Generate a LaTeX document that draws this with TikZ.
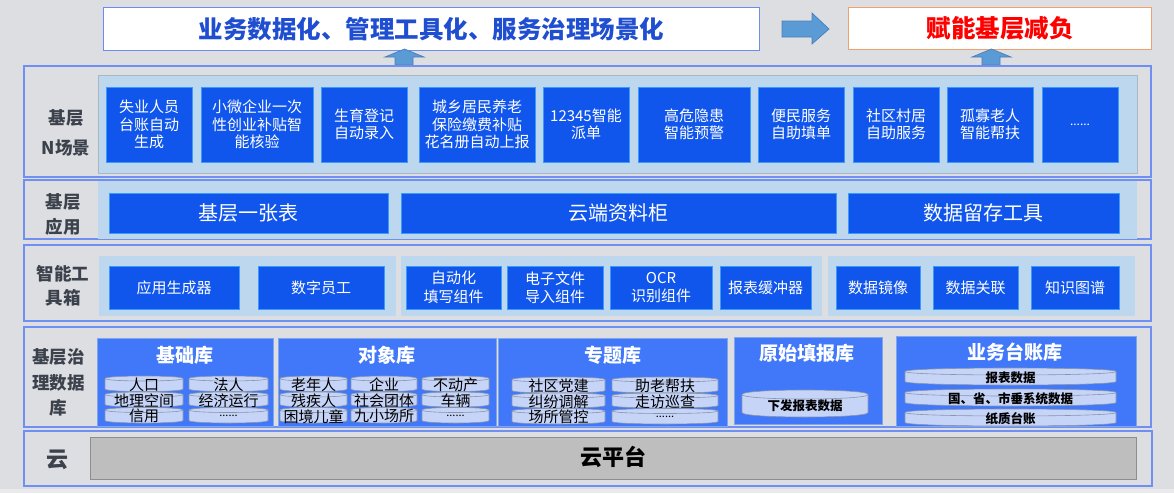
\documentclass[tikz,border=0pt]{standalone}
\usepackage{fontspec}
\setmainfont{Noto Sans CJK SC}
\definecolor{bg}{HTML}{DDDEE2}
\definecolor{bgfoot}{HTML}{EAEAEC}
\definecolor{rowline}{HTML}{6F8FF2}
\definecolor{panel}{HTML}{BDD7EE}
\definecolor{panelline}{HTML}{A9B6C4}
\definecolor{boxblue}{HTML}{1156EC}
\definecolor{boxedge}{HTML}{3A9BFF}
\definecolor{libblue}{HTML}{4078F9}
\definecolor{libedge}{HTML}{7FA6E8}
\definecolor{cylfill}{HTML}{C6D4F8}
\definecolor{cyledge}{HTML}{8A95A8}
\definecolor{labelgray}{HTML}{3C424C}
\definecolor{titleblue}{HTML}{1F4ED0}
\definecolor{topedge}{HTML}{6C8DEB}
\definecolor{orangeedge}{HTML}{F0A070}
\definecolor{arrowfill}{HTML}{5B9BD5}
\definecolor{arrowedge}{HTML}{4A7EBB}
\definecolor{cloudgray}{HTML}{BEBEBE}
\definecolor{cloudedge}{HTML}{8E8E8E}
\newcommand\fs[2]{\fontsize{#1}{#2}\selectfont}
\newcommand\bx[7]{\node[#1,anchor=north west,minimum width={#5-#3},minimum height={#6-#4}] (#2) at (#3,#4) {#7};}
\def\cylr{2.5}
\newcommand\cyl[7]{%
  \filldraw[cylshape] (#3,#4+\cylr) -- (#3,#6-\cylr) .. controls (#3,#6+\cylr/3) and (#5,#6+\cylr/3) .. (#5,#6-\cylr)
     -- (#5,#4+\cylr) .. controls (#5,#4-\cylr/3) and (#3,#4-\cylr/3) .. (#3,#4+\cylr) -- cycle;
  \draw[cylshape,fill=none] (#3,#4+\cylr) .. controls (#3,#4+7*\cylr/3) and (#5,#4+7*\cylr/3) .. (#5,#4+\cylr);
  \node[#1] (#2) at ({(#3+#5)/2},{(#4+#6)/2+\cylr*0.4}) {#7};}
\begin{document}
\begin{tikzpicture}[x=1pt,y=-1pt,
  sbox/.style={draw=boxedge,line width=0.7pt,fill=boxblue,text=white,inner sep=0pt,outer sep=0pt,align=center,font=\fs{15}{17.5}},
  tbox/.style={sbox,font=\fs{15}{18.5}},
  abox/.style={sbox,font=\fs{20}{24}},
  libbox/.style={draw=libedge,line width=0.7pt,fill=libblue,inner sep=0pt,outer sep=0pt},
  libtitle/.style={text=white,font=\bfseries\fs{19}{22},inner sep=0pt},
  cylshape/.style={draw=cyledge,fill=cylfill,line width=0.6pt},
  cyltext/.style={text=black,font=\fs{15}{15},inner sep=0pt},
  cylbold/.style={text=black,font=\bfseries\fs{12.5}{14},inner sep=0pt},
  rowlabel/.style={text=labelgray,font=\bfseries\fs{17.5}{25},align=center,inner sep=0pt},
  rowframe/.style={draw=rowline,line width=1.1pt},
  blockarrow/.style={fill=arrowfill,draw=arrowedge,line width=0.7pt}]
\useasboundingbox (0,0) rectangle (1174,493);
\fill[bg] (0,0) rectangle (1174,493);
\fill[bgfoot] (0,489) rectangle (1174,493);

% top boxes
\node[draw=topedge,line width=1pt,fill=white,anchor=north west,minimum width=656,minimum height=43,inner sep=0pt,
  text=titleblue,font=\bfseries\fs{24.5}{28}] (goal) at (103,7) {业务数据化、管理工具化、服务治理场景化};
\node[draw=orangeedge,line width=1pt,fill=white,anchor=north west,minimum width=303,minimum height=42,inner sep=0pt,
  text=red,font=\bfseries\fs{24.5}{28}] (result) at (848,7) {赋能基层减负};
\filldraw[blockarrow] (782,21) -- (812,21) -- (812,13) -- (829,29) -- (812,44) -- (812,37) -- (782,37) -- cycle;
\filldraw[blockarrow] (395,65) -- (395,57) -- (385,57) -- (404.5,49) -- (424,57) -- (413,57) -- (413,65) -- cycle;
\filldraw[blockarrow] (982,65) -- (982,57) -- (972,57) -- (991.5,49) -- (1011,57) -- (1000,57) -- (1000,65) -- cycle;

% row frames and panels
\draw[rowframe] (24,66) rectangle (1151,177);
\filldraw[fill=panel,draw=panelline,line width=0.6pt] (98,75) rectangle (1137,173);
\draw[rowframe] (24,180) rectangle (1151,239);
\fill[panel] (98,180.5) rectangle (1137,238.5);
\draw[rowframe] (24,245) rectangle (1151,321);
\fill[panel] (99,256) rectangle (396,316);
\fill[panel] (401,256) rectangle (822,316);
\fill[panel] (828,256) rectangle (1135,316);
\draw[rowframe] (24,327) rectangle (1151,427);
\draw[rowframe] (24,431) rectangle (1152,486);

% row labels
\node[rowlabel,font=\bfseries\fs{17.5}{30}] (lab1) at (66,133) {基层\\N场景};
\node[rowlabel] (lab2) at (63,214.5) {基层\\应用};
\node[rowlabel,font=\bfseries\fs{17.5}{24}] (lab3) at (63,286) {智能工\\具箱};
\node[rowlabel,font=\bfseries\fs{17.5}{25.5}] (lab4) at (58.5,382.5) {基层治\\理数据\\库};
\node[rowlabel,font=\bfseries\fs{22}{25}] (lab5) at (57,460) {云};

% row 1: scenarios
\bx{sbox}{s1}{106}{87}{192}{162}{失业人员\\台账自动\\生成}
\bx{sbox}{s2}{201}{87}{313}{162}{小微企业一次\\性创业补贴智\\能核验}
\bx{sbox}{s3}{321}{87}{407}{162}{生育登记\\自动录入}
\bx{sbox}{s4}{419}{87}{535}{162}{城乡居民养老\\保险缴费补贴\\花名册自动上报}
\bx{sbox}{s5}{543}{87}{629}{162}{12345智能\\派单}
\bx{sbox}{s6}{638}{87}{750}{162}{高危隐患\\智能预警}
\bx{sbox}{s7}{758}{87}{844}{162}{便民服务\\自助填单}
\bx{sbox}{s8}{853}{87}{939}{162}{社区村居\\自助服务}
\bx{sbox}{s9}{947}{87}{1033}{162}{孤寡老人\\智能帮扶}
\bx{sbox,font=\fs{12}{14}}{s10}{1042}{87}{1118}{162}{......}

% row 2: applications
\bx{abox}{a1}{109}{193}{388}{233}{基层一张表}
\bx{abox}{a2}{401}{193}{836}{233}{云端资料柜}
\bx{abox}{a3}{848}{193}{1119}{233}{数据留存工具}

% row 3: toolbox
\bx{tbox}{t1}{109}{266}{239}{309}{应用生成器}
\bx{tbox}{t2}{258}{266}{384}{309}{数字员工}
\bx{tbox}{t3}{406}{266}{501}{309}{自动化\\填写组件}
\bx{tbox}{t4}{507}{266}{603}{309}{电子文件\\导入组件}
\bx{tbox}{t5}{610}{266}{712}{309}{OCR\\识别组件}
\bx{tbox}{t6}{720}{266}{811}{309}{报表缓冲器}
\bx{tbox}{t7}{836}{266}{920}{309}{数据镜像}
\bx{tbox}{t8}{933}{266}{1018}{309}{数据关联}
\bx{tbox}{t9}{1031}{266}{1119}{309}{知识图谱}

% row 4: databases
\bx{libbox}{L1}{97}{338}{273}{426}{}
\bx{libbox}{L2}{278}{338}{496}{426}{}
\bx{libbox}{L3}{498}{338}{727}{426}{}
\bx{libbox}{L4}{734}{337}{882}{424}{}
\bx{libbox}{L5}{896}{336}{1136}{426}{}
\node[libtitle] (L1t) at (185,355) {基础库};
\node[libtitle] (L2t) at (387,355) {对象库};
\node[libtitle] (L3t) at (613,355) {专题库};
\node[libtitle] (L4t) at (807,353) {原始填报库};
\node[libtitle] (L5t) at (1015,352) {业务台账库};

\cyl{cyltext}{c11}{105}{376}{183}{391.5}{人口}
\cyl{cyltext}{c12}{105}{392}{183}{407}{地理空间}
\cyl{cyltext}{c13}{105}{407.5}{183}{423}{信用}
\cyl{cyltext}{c14}{189}{376}{268}{391.5}{法人}
\cyl{cyltext}{c15}{189}{392}{268}{407}{经济运行}
\cyl{cyltext,font=\fs{11}{12}}{c16}{189}{407.5}{268}{423}{......}

\cyl{cyltext}{c21}{280}{376}{347}{391.5}{老年人}
\cyl{cyltext}{c22}{280}{392}{347}{407}{残疾人}
\cyl{cyltext}{c23}{280}{407.5}{347}{423}{困境儿童}
\cyl{cyltext}{c24}{351}{376}{417}{391.5}{企业}
\cyl{cyltext}{c25}{351}{392}{417}{407}{社会团体}
\cyl{cyltext}{c26}{351}{407.5}{417}{423}{九小场所}
\cyl{cyltext}{c27}{422}{376}{489}{391.5}{不动产}
\cyl{cyltext}{c28}{422}{392}{489}{407}{车辆}
\cyl{cyltext,font=\fs{11}{12}}{c29}{422}{407.5}{489}{423}{......}

\cyl{cyltext}{c31}{512}{377}{605}{393}{社区党建}
\cyl{cyltext}{c32}{512}{393}{605}{408}{纠纷调解}
\cyl{cyltext}{c33}{512}{408.5}{605}{424}{场所管控}
\cyl{cyltext}{c34}{612}{377}{718}{393}{助老帮扶}
\cyl{cyltext}{c35}{612}{393}{718}{408}{走访巡查}
\cyl{cyltext,font=\fs{11}{12}}{c36}{612}{408.5}{718}{424}{......}

\def\cylr{3.5}
\cyl{cylbold}{c51}{905}{368}{1116}{385}{报表数据}
\cyl{cylbold}{c52}{905}{389}{1116}{406}{国、省、市垂系统数据}
\cyl{cylbold}{c53}{905}{409}{1116}{426}{纸质台账}
\def\cylr{4.5}
\cyl{cylbold}{c41}{742}{390}{868}{417}{下发报表数据}

% row 5: cloud
\node[draw=cloudedge,line width=0.8pt,fill=cloudgray,anchor=north west,minimum width=1046,minimum height=42,inner sep=0pt] (cloud) at (90,437) {};
\node[text=black,font=\bfseries\fs{22}{25},inner sep=0pt] (cloudt) at (613,457) {云平台};
\end{tikzpicture}
\end{document}
